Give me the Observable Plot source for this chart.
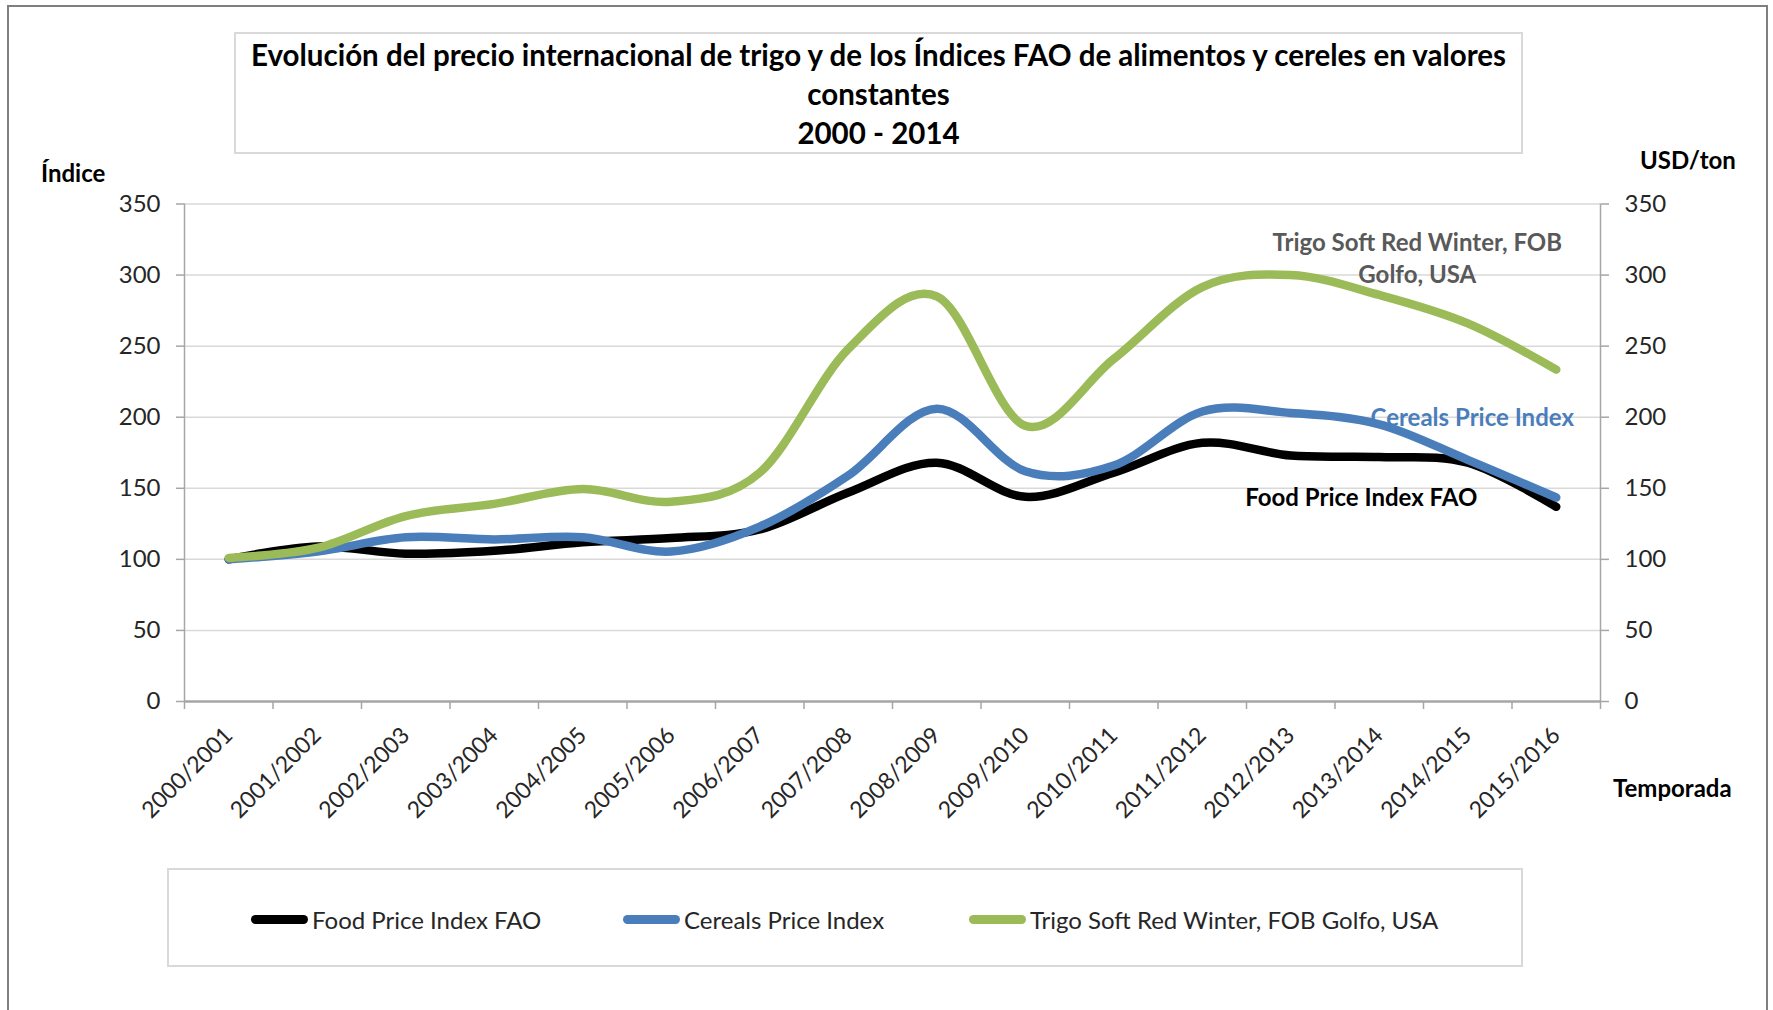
<!DOCTYPE html>
<html>
<head>
<meta charset="utf-8">
<script src="https://cdn.jsdelivr.net/npm/d3@7"></script>
<script src="https://cdn.jsdelivr.net/npm/@observablehq/plot@0.6"></script>
<style>
  html, body { margin: 0; padding: 0; background: #fff; overflow: hidden; }
  body { width: 1773px; height: 1010px; position: relative; font-family: Lato, "Open Sans", sans-serif; }
  .abs { position: absolute; }
  #frame { left: 7px; top: 5px; width: 1761px; height: 1030px; border: 2px solid #7f7f7f; box-sizing: border-box; }
  #titlebox { left: 234px; top: 32px; width: 1289px; height: 122px; border: 2px solid #d9d9d9; box-sizing: border-box; background: #fff;
    text-align: center; font-weight: 700; font-size: 29.5px; line-height: 39px; color: #000; padding-top: 1px; white-space: nowrap; }
  .axtitle { font-weight: 700; font-size: 24px; color: #000; white-space: nowrap; }
  #legend { left: 167px; top: 868px; width: 1356px; height: 99px; border: 2px solid #d9d9d9; box-sizing: border-box; background: #fff; }
  .item { position: absolute; top: 34px; height: 30px; display: flex; align-items: center; font-size: 24px; color: #262626; white-space: nowrap; }
  .sw { width: 57px; height: 9px; border-radius: 5px; margin-right: 4px; }
  #chart { left: 0; top: 0; }
</style>
</head>
<body>
<div id="chart" class="abs"></div>
<div id="frame" class="abs"></div>
<div id="titlebox" class="abs"></div>
<div id="ylab" class="abs axtitle" style="left:41px; top:158px;"></div>
<div id="y2lab" class="abs axtitle" style="left:1640px; top:145px;"></div>
<div id="xlab" class="abs axtitle" style="left:1613px; top:773px;"></div>
<div id="legend" class="abs"></div>
<script>
// ---- data ----
const categories = ["2000/2001","2001/2002","2002/2003","2003/2004","2004/2005","2005/2006","2006/2007","2007/2008",
  "2008/2009","2009/2010","2010/2011","2011/2012","2012/2013","2013/2014","2014/2015","2015/2016"];
const foodPriceIndex = [100, 109, 104, 106, 112, 115, 121, 147, 168, 144, 161, 182, 173, 172, 168, 137];
const cerealsPriceIndex = [100, 105.5, 115.5, 114, 115.5, 105.5, 123, 159, 206, 162, 166, 204, 203, 195, 170, 143.5];
const trigoSRW = [101, 108, 130.5, 139, 149.5, 140.5, 161, 248, 285, 194, 241, 291.5, 300, 286, 266, 233.5];
const yTicks = [0, 50, 100, 150, 200, 250, 300, 350];
const seriesNames = ["Food Price Index FAO", "Cereals Price Index", "Trigo Soft Red Winter, FOB Golfo, USA"];
const seriesColors = ["#000000", "#4a7ebb", "#9bbb59"];
const annotationTexts = ["Food Price Index FAO", "Cereals Price Index", "Trigo Soft Red Winter, FOB\nGolfo, USA"];
const annotationColors = ["#000000", "#4a7ebb", "#595959"];
const titleLines = ["Evolución del precio internacional de trigo y de los Índices FAO de alimentos y cereles en valores", "constantes", "2000 - 2014"];
const yTitle = "Índice", y2Title = "USD/ton", xTitle = "Temporada";

const seriesValues = [foodPriceIndex, cerealsPriceIndex, trigoSRW];
const rows = seriesValues.map((vals, s) => vals.map((v, i) => ({i, v, s})));
const boundaries = d3.range(categories.length + 1).map(i => i - 0.5);
const lastPoints = seriesValues.map((vals, s) => ({i: vals.length - 1, v: vals[vals.length - 1], s}));

const chart = Plot.plot({
  width: 1773, height: 1010,
  marginLeft: 184, marginRight: 173, marginTop: 203.5, marginBottom: 309,
  x: {type: "linear", domain: [-0.5, categories.length - 0.5]},
  y: {domain: [0, 350]},
  style: {fontFamily: "Lato, 'Open Sans', sans-serif", color: "#262626", background: "transparent"},
  marks: [
    Plot.gridY(yTicks.slice(1), {stroke: "#d9d9d9", strokeOpacity: 1, strokeWidth: 1.5}),
    Plot.ruleY([0], {stroke: "#a6a6a6", strokeWidth: 2.5}),
    Plot.ruleX([-0.5, categories.length - 0.5], {stroke: "#a6a6a6", strokeWidth: 1.5}),
    Plot.axisY(yTicks, {anchor: "left", tickSize: 8, tickPadding: 16, fontSize: 24, label: null, stroke: "#a6a6a6", strokeWidth: 1.5}),
    Plot.axisY(yTicks, {anchor: "right", tickSize: 8, tickPadding: 16, fontSize: 24, label: null, stroke: "#a6a6a6", strokeWidth: 1.5}),
    Plot.axisX(boundaries, {tickSize: 8, tickFormat: () => "", label: null, stroke: "#a6a6a6", strokeWidth: 1.5}),
    Plot.axisX(d3.range(categories.length), {tickSize: 0, tickPadding: 30, tickRotate: -45, fontSize: 23,
      tickFormat: i => categories[i], label: null}),
    ...rows.map((r, s) => Plot.line(r, {x: "i", y: "v", stroke: seriesColors[s], strokeWidth: 8.5,
      curve: "cardinal", strokeLinecap: "round", strokeLinejoin: "round"})),
    Plot.text([lastPoints[0]], {x: "i", y: "v", text: () => annotationTexts[0], fill: annotationColors[0],
      fontWeight: "bold", fontSize: 24, dx: -195, dy: -8}),
    Plot.text([lastPoints[1]], {x: "i", y: "v", text: () => annotationTexts[1], fill: annotationColors[1],
      fontWeight: "bold", fontSize: 24, dx: -84, dy: -79}),
    Plot.text([lastPoints[2]], {x: "i", y: "v", text: () => annotationTexts[2], fill: annotationColors[2],
      fontWeight: "bold", fontSize: 24, dx: -139, dy: -113, lineHeight: 1.35})
  ]
});
document.getElementById("chart").appendChild(chart);

document.getElementById("titlebox").innerHTML = titleLines.map(t => `<div>${t}</div>`).join("");
document.getElementById("ylab").textContent = yTitle;
document.getElementById("y2lab").textContent = y2Title;
document.getElementById("xlab").textContent = xTitle;

const legendLefts = [82, 454, 800];
const legend = document.getElementById("legend");
seriesNames.forEach((n, s) => {
  const it = document.createElement("div");
  it.className = "item";
  it.style.left = legendLefts[s] + "px";
  it.innerHTML = `<div class="sw" style="background:${seriesColors[s]}"></div><span>${n}</span>`;
  legend.appendChild(it);
});
</script>
</body>
</html>
